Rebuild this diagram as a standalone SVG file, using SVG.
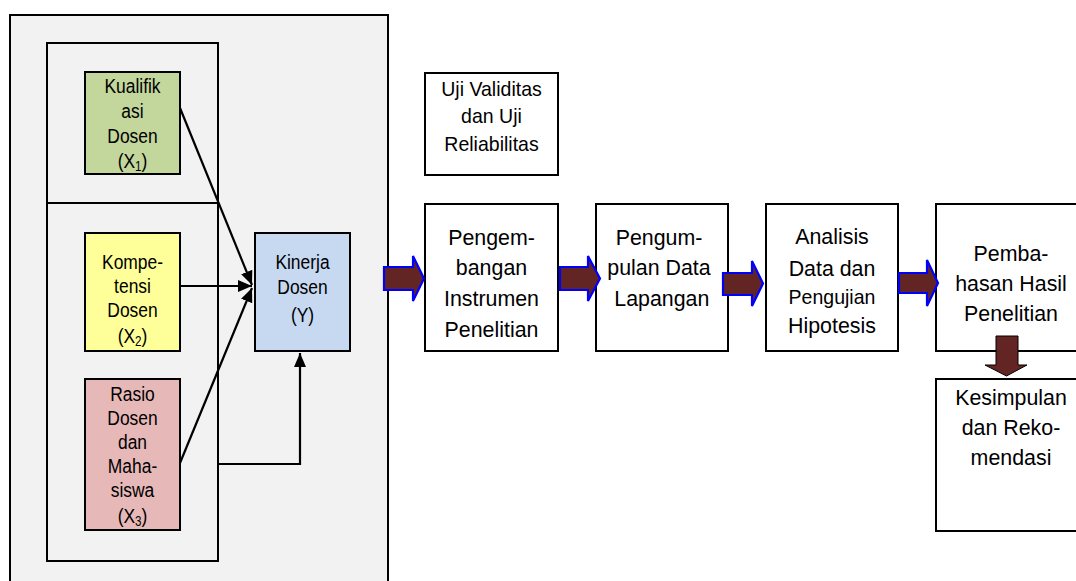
<svg xmlns="http://www.w3.org/2000/svg" width="1076" height="581" viewBox="0 0 1076 581">
<defs>
<style>
.box{stroke:#000;stroke-width:2}
.t{font-family:"Liberation Sans",Arial,sans-serif;fill:#000;text-anchor:middle}
.ls{font-size:21px}
.ps{font-size:23px}
.us{font-size:21px}
.sub{font-size:14px}
.con{fill:none;stroke:#000;stroke-width:2.2}
.blk{fill:#632523;stroke:#0000ff;stroke-width:2.2;stroke-linejoin:miter}
</style>
<marker id="ah" viewBox="0 0 14 12" refX="14" refY="6" markerWidth="14" markerHeight="12" markerUnits="userSpaceOnUse" orient="auto">
<path d="M0,0 L14,6 L0,12 Z" fill="#000"/>
</marker>
</defs>
<rect x="0" y="0" width="1076" height="581" fill="#fff"/>
<g id="outer">
<rect x="10" y="15" width="378" height="580" fill="#f2f2f2" class="box"/>
<rect x="47" y="43" width="171" height="160" fill="none" class="box"/>
<rect x="47" y="203" width="171" height="358" fill="none" class="box"/>
</g>
<g id="x1">
<rect x="85" y="72" width="95" height="102" fill="#c3d69b" class="box"/>
<g transform="translate(132.5 0) scale(0.83 1)" class="t ls">
<text x="0" y="93">Kualifik</text>
<text x="0" y="118">asi</text>
<text x="0" y="143">Dosen</text>
<text x="0" y="168">(X<tspan class="sub" dy="3">1</tspan><tspan dy="-3">)</tspan></text>
</g>
</g>
<g id="x2">
<rect x="85" y="233" width="95" height="118" fill="#ffff99" class="box"/>
<g transform="translate(132.5 0) scale(0.83 1)" class="t ls">
<text x="0" y="269">Kompe-</text>
<text x="0" y="293">tensi</text>
<text x="0" y="317">Dosen</text>
<text x="0" y="343">(X<tspan class="sub" dy="3">2</tspan><tspan dy="-3">)</tspan></text>
</g>
</g>
<g id="x3">
<rect x="85" y="379" width="95" height="151" fill="#e6b9b8" class="box"/>
<g transform="translate(132.5 0) scale(0.83 1)" class="t ls">
<text x="0" y="401">Rasio</text>
<text x="0" y="425">Dosen</text>
<text x="0" y="449">dan</text>
<text x="0" y="473">Maha-</text>
<text x="0" y="497">siswa</text>
<text x="0" y="523">(X<tspan class="sub" dy="3">3</tspan><tspan dy="-3">)</tspan></text>
</g>
</g>
<g id="y">
<rect x="255" y="233" width="95" height="118" fill="#c6d9f1" class="box"/>
<g transform="translate(302.5 0) scale(0.83 1)" class="t ls">
<text x="0" y="269">Kinerja</text>
<text x="0" y="294">Dosen</text>
<text x="0" y="322">(Y)</text>
</g>
</g>
<g id="uji">
<rect x="425" y="73" width="133" height="102" fill="#fff" class="box"/>
<g transform="translate(491.5 0) scale(0.93 1)" class="t us">
<text x="0" y="96">Uji Validitas</text>
<text x="0" y="123">dan Uji</text>
<text x="0" y="151">Reliabilitas</text>
</g>
</g>
<g id="p1">
<rect x="425" y="204" width="133" height="147" fill="#fff" class="box"/>
<g transform="translate(491.5 0) scale(0.93 1)" class="t ps">
<text x="0" y="245">Pengem-</text>
<text x="0" y="275">bangan</text>
<text x="0" y="306">Instrumen</text>
<text x="0" y="337">Penelitian</text>
</g>
</g>
<g id="p2">
<rect x="596" y="204" width="132" height="147" fill="#fff" class="box"/>
<g transform="translate(659 0) scale(0.93 1)" class="t ps">
<text x="0" y="245">Pengum-</text>
<text x="0" y="275">pulan Data</text>
<text x="3" y="306">Lapangan</text>
</g>
</g>
<g id="p3">
<rect x="766" y="204" width="132" height="147" fill="#fff" class="box"/>
<g transform="translate(832 0) scale(0.93 1)" class="t ps">
<text x="0" y="244">Analisis</text>
<text x="0" y="276">Data dan</text>
<text x="0" y="304" style="font-size:21px">Pengujian</text>
<text x="0" y="333">Hipotesis</text>
</g>
</g>
<g id="p4">
<rect x="936" y="204" width="150" height="147" fill="#fff" class="box"/>
<g transform="translate(1011 0) scale(0.93 1)" class="t ps">
<text x="0" y="261">Pemba-</text>
<text x="0" y="291">hasan Hasil</text>
<text x="0" y="321">Penelitian</text>
</g>
</g>
<g id="p5">
<rect x="936" y="379" width="150" height="152" fill="#fff" class="box"/>
<g transform="translate(1011 0) scale(0.93 1)" class="t ps">
<text x="0" y="405">Kesimpulan</text>
<text x="0" y="435">dan Reko-</text>
<text x="0" y="465">mendasi</text>
</g>
</g>
<g id="connectors">
<line x1="180" y1="108" x2="252" y2="285" class="con" marker-end="url(#ah)"/>
<line x1="180" y1="286" x2="252" y2="286" class="con" marker-end="url(#ah)"/>
<line x1="180" y1="463" x2="252" y2="288" class="con" marker-end="url(#ah)"/>
<polyline points="218,464 300,464 300,353" class="con" marker-end="url(#ah)"/>
<path class="blk" d="M384,267 L413,267 L413,256 L424,278.5 L413,301 L413,290 L384,290 Z"/>
<path class="blk" d="M560,267 L588,267 L588,256 L600,278.5 L588,301 L588,290 L560,290 Z"/>
<path class="blk" d="M723,273 L752,273 L752,261 L763,283.5 L752,306 L752,295 L723,295 Z"/>
<path class="blk" d="M899,273 L927,273 L927,260 L938,283 L927,306 L927,293 L899,293 Z"/>
<path d="M996,336 L1018,336 L1018,365 L1027,365 L1006.5,376 L985,365 L996,365 Z" fill="#632523" stroke="#000" stroke-width="1"/>
</g>
</svg>
